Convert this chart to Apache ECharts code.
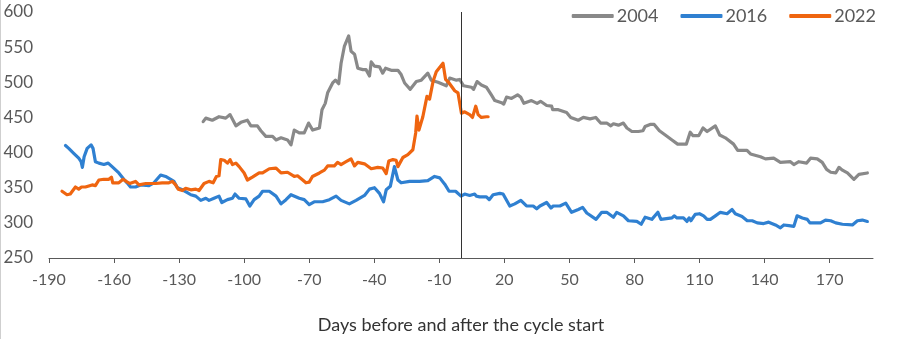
<!DOCTYPE html>
<html>
<head>
<meta charset="utf-8">
<script src="https://cdn.jsdelivr.net/npm/echarts@6/dist/echarts.min.js"></script>
<style>
html,body{margin:0;padding:0;background:#fff;}
#chart{width:900px;height:339px;position:relative;}
#edge{position:absolute;left:0;top:0;width:1px;height:339px;background:#cfcfcf;}
</style>
</head>
<body>
<div id="chart"></div>
<div id="edge"></div>
<script>
const seriesNames = ['2004', '2016', '2022'];
const xTicks = [-190, -160, -130, -100, -70, -40, -10, 20, 50, 80, 110, 140, 170];

const days2004 = [-118.9,-117.7,-114.7,-111.6,-108.5,-106.5,-103.8,-101.5,-98.5,-96.9,-93.9,-92.3,-90,-86.9,-85.3,-83,-80,-78.4,-76.9,-74.6,-72.3,-70.3,-68.4,-65.3,-64.1,-62.6,-61.5,-59.2,-57.9,-56.4,-55.3,-53.8,-51.8,-50.7,-49.1,-47.6,-45.3,-43.8,-42.2,-41.4,-39.9,-37.6,-36.1,-34.8,-32.2,-29.1,-27.6,-26,-23.4,-20.6,-18.3,-15.3,-13.7,-10.6,-6.8,-5.2,-2.1,-0.6,1.2,4.8,5.8,7.4,9.4,11.7,14,15.6,18.7,19.7,21,23.3,26.1,27.5,29,32.5,35.1,36.7,39.5,41.8,42.3,44.9,48.7,50.6,54.1,56.4,59.5,62.1,64.4,67.2,69.1,70.3,72.6,74.9,76.5,78.8,81.8,83.9,84.9,87.2,89.1,91.5,94.2,97.3,99.9,103.9,105.7,107,109.6,111.6,113.5,117.3,119.3,121.9,125.7,127.6,131.9,133.5,138.1,140.4,144.2,147.3,151.9,153.5,155.8,159.4,161.2,164.3,166.6,168.6,170.5,172.8,174.3,175.9,178.2,181.2,183.5,187.4];
const values2004 = [444,449,446,451,449,454,438,443,446,438,438,431,423,423,418,421,418,411,432,428,428,442,432,435,461,470,485,499,503,498,527,551,566,544,540,520,518,518,509,529,523,522,513,520,517,517,511,499,490,501,503,513,503,500,495,506,503,504,495,493,490,501,496,493,482,474,471,469,479,477,482,479,470,474,470,473,467,466,461,461,457,450,446,450,448,450,442,442,438,441,439,442,435,430,430,431,437,440,440,431,425,418,412,412,429,424,424,435,430,438,425,421,412,403,403,398,394,391,392,386,387,383,387,385,392,391,386,376,372,371,379,375,371,362,369,371];

const days2016 = [-182.4,-180.9,-178.6,-176.3,-175.2,-174.6,-173.8,-172.4,-170.6,-169.7,-168.6,-167,-164.7,-162.7,-160.9,-157.8,-155.5,-154,-152.4,-150.1,-147.8,-143.9,-141.6,-138.5,-136.2,-133.9,-132.4,-130.8,-128.5,-126.2,-124.6,-122.3,-120,-117.7,-116.2,-113.9,-111.6,-110.3,-107.7,-105.4,-104.2,-102.3,-99.2,-97.4,-95.4,-93.1,-91.5,-88.4,-85.3,-83,-80.7,-78.4,-74.6,-72.3,-70,-67.7,-63.8,-60.7,-57.6,-55.3,-51.5,-48.4,-44.5,-42.2,-39.9,-37.6,-35.7,-34.5,-32.6,-30.7,-29.1,-27.6,-23.7,-19.1,-15.3,-12.2,-9.8,-7.5,-5.5,-2.5,0,1.7,4,6.3,7.1,8.6,11.7,13,14.8,17.9,19.4,22.5,24.8,27.6,30.2,33.3,34.9,36.4,39.5,41.5,42.5,45.6,48.3,51,54.1,56.1,58,62.3,64.9,67.2,70.3,71.8,74.9,77.2,81.1,83.1,84.9,88,90.8,92.2,97.3,98.3,99.6,102.6,104.2,105.2,106,108,110,111.9,113.5,115,117.3,119.6,122.7,125,126.5,129.6,132,134.3,136.6,139.6,141.9,145,147.3,148.9,151.2,153.5,155,157.4,159.7,160.9,165.8,168.1,170.5,172.8,175.9,180.5,182.8,185.1,187.4];
const values2016 = [410,406,399,392,387,379,394,406,411,406,387,385,383,385,380,371,362,357,351,351,354,353,357,368,366,362,359,350,347,343,340,338,332,335,332,335,338,329,333,335,341,335,334,324,333,338,345,345,338,327,333,340,335,333,326,330,330,333,338,332,327,332,339,348,350,342,330,347,352,380,361,357,359,359,360,366,364,355,345,345,338,341,339,341,338,337,337,333,340,342,341,324,327,332,324,324,320,324,329,321,324,324,328,315,319,322,314,305,315,315,308,315,310,303,302,298,308,305,315,305,307,310,307,307,302,307,303,312,313,310,305,305,310,315,313,319,313,309,303,303,300,299,301,297,293,297,296,295,310,307,305,300,300,304,303,300,298,297,303,304,302];

const days2022 = [-184,-181.7,-180.2,-177.8,-176.3,-175,-173.2,-170.1,-168.6,-167,-164.7,-162.4,-161.2,-160.6,-157.8,-155.8,-154.4,-152.8,-150.1,-148.5,-145.4,-140.8,-137.8,-134.7,-133.1,-131.6,-130.4,-128.5,-127,-124.6,-122.3,-120.8,-118.5,-116.2,-114.3,-112.8,-111.6,-110.8,-109.2,-107.7,-106.5,-105.4,-103.8,-102.3,-100,-98.5,-96.2,-93.1,-91.5,-88.4,-85.3,-83,-80,-76.9,-75.4,-73,-71.5,-70,-68.5,-65.3,-63,-61.5,-58.4,-56.9,-55.3,-53,-50.7,-49.1,-47.6,-44.5,-41.4,-38.4,-36.1,-34.5,-33.3,-31.4,-29.9,-29.1,-26.8,-24.5,-22.2,-20.9,-20.3,-19.4,-17.6,-15.7,-14.5,-12.9,-11.4,-8.3,-7.1,-5.5,-2.9,-1.4,0.2,1.7,4,5.3,6.8,7.9,9.4,11.7,12.5];
const values2022 = [345,340,341,351,348,351,351,354,353,361,362,362,365,357,357,362,359,356,359,354,356,356,357,357,359,354,348,346,349,347,348,346,356,359,357,366,367,390,389,385,390,383,385,380,371,361,365,371,371,377,378,371,372,366,367,361,357,358,366,371,375,381,381,386,383,387,391,381,386,384,377,379,378,370,388,390,389,380,393,397,404,428,452,432,451,480,476,501,515,527,504,499,488,485,456,458,454,450,466,454,450,451,451];

const colors = ['#898989', '#2f80d1', '#ef6510'];
const zip = (d, v) => d.map((x, i) => [x, v[i]]);
const seriesData = [zip(days2004, values2004), zip(days2016, values2016), zip(days2022, values2022)];

const chart = echarts.init(document.getElementById('chart'), null, {renderer: 'canvas'});
const FONT = 'Lato, "Open Sans", sans-serif';

chart.setOption({
  animation: false,
  color: colors,
  textStyle: {fontFamily: FONT},
  grid: {left: 49, right: 27, top: 12, bottom: 81, containLabel: false},
  legend: {
    data: seriesNames,
    right: 19, top: 2,
    itemWidth: 42, itemHeight: 4, itemGap: 22,
    icon: 'roundRect',
    textStyle: {fontFamily: FONT, fontSize: 18, color: '#595959', padding: [0, 0, 0, -2]}
  },
  xAxis: {
    type: 'value',
    min: -190, max: 190, interval: 30,
    name: 'Days before and after the cycle start',
    nameLocation: 'middle', nameGap: 58,
    nameTextStyle: {fontFamily: FONT, fontSize: 18, color: '#333333'},
    splitLine: {show: false},
    axisLine: {show: true, onZero: false, lineStyle: {color: '#595959', width: 1}},
    axisTick: {show: true, inside: false, length: 5, customValues: xTicks, lineStyle: {color: '#595959'}},
    axisLabel: {customValues: xTicks, margin: 14, fontFamily: FONT, fontSize: 16, color: '#595959'}
  },
  yAxis: {
    type: 'value',
    min: 250, max: 600, interval: 50,
    splitLine: {show: false},
    axisLine: {show: false},
    axisTick: {show: false},
    axisLabel: {margin: 16, fontFamily: FONT, fontSize: 17, color: '#595959'}
  },
  series: seriesNames.map((name, i) => ({
    name: name,
    type: 'line',
    data: seriesData[i],
    showSymbol: false,
    symbol: 'none',
    lineStyle: {width: 3.2, color: colors[i], cap: 'round', join: 'round'},
    z: i === 0 ? 2 : (i === 1 ? 3 : 4),
    markLine: i === 0 ? {
      silent: true,
      symbol: ['none', 'none'],
      label: {show: false},
      lineStyle: {color: '#333333', width: 1, type: 'solid'},
      data: [{xAxis: 0}]
    } : undefined
  }))
});
</script>
</body>
</html>
